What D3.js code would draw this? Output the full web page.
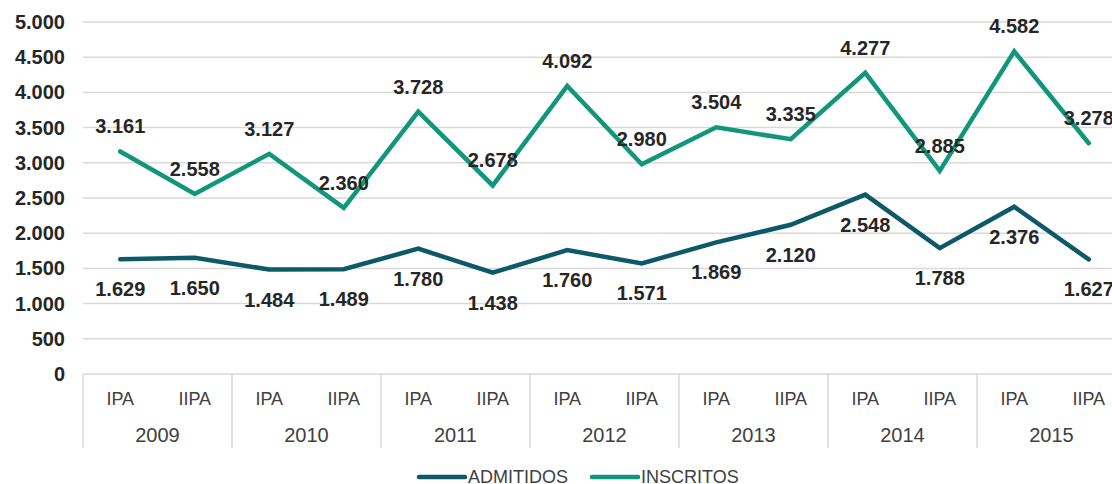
<!DOCTYPE html>
<html>
<head>
<meta charset="utf-8">
<script src="https://cdn.jsdelivr.net/npm/d3@7"></script>
<style>
  body { margin: 0; background: #fff; }
  svg { display: block; font-family: "Liberation Sans", Arial, sans-serif; }
</style>
</head>
<body>
<svg id="chart" width="1112" height="484"></svg>
<script>
var years = ["2009", "2010", "2011", "2012", "2013", "2014", "2015"];
var periods = ["IPA", "IIPA"];
var inscritos = [3161, 2558, 3127, 2360, 3728, 2678, 4092, 2980, 3504, 3335, 4277, 2885, 4582, 3278];
var admitidos = [1629, 1650, 1484, 1489, 1780, 1438, 1760, 1571, 1869, 2120, 2548, 1788, 2376, 1627];
var yTicks = [0, 500, 1000, 1500, 2000, 2500, 3000, 3500, 4000, 4500, 5000];

var svg_w = 1112, svg_h = 484;
var left = 83, top_ = 22, bottom = 374;
var colAdm = "#0d5968", colIns = "#10967a";

// category keys: year + period
var cats = [];
for (let y of years) {
    for (let p of periods) cats.push(y + "-" + p);
}

var svg = d3.select("#chart");

var x = d3.scaleBand()
    .domain(cats)
    .range([left, left + 74.5 * cats.length]);
var yScale = d3.scaleLinear()
    .domain([0, 5000])
    .range([bottom, top_]);

var fmt = d3.formatLocale({decimal: ",", thousands: ".", grouping: [3], currency: ["", ""]}).format(",d");

// gridlines
svg.append("g")
    .selectAll("line")
    .data(yTicks.filter(d => d > 0))
    .enter().append("line")
    .attr("x1", left).attr("x2", svg_w)
    .attr("y1", d => yScale(d)).attr("y2", d => yScale(d))
    .attr("stroke", "#d9d9d9").attr("stroke-width", 1.5);

// y tick labels
svg.append("g")
    .selectAll("text")
    .data(yTicks)
    .enter().append("text")
    .attr("x", 65)
    .attr("y", d => yScale(d) + 7)
    .attr("text-anchor", "end")
    .attr("font-size", 20)
    .attr("font-weight", "bold")
    .attr("fill", "#262626")
    .text(d => fmt(d));

// x axis line and group separators
var axisG = svg.append("g");
axisG.append("line")
    .attr("x1", left).attr("x2", svg_w)
    .attr("y1", bottom).attr("y2", bottom)
    .attr("stroke", "#d9d9d9").attr("stroke-width", 1.5);
var seps = years.map(y => x(y + "-IPA")).concat([x(years[years.length - 1] + "-IIPA") + x.bandwidth()]);
axisG.selectAll("line.sep")
    .data(seps)
    .enter().append("line")
    .attr("class", "sep")
    .attr("x1", d => d).attr("x2", d => d)
    .attr("y1", bottom).attr("y2", 448)
    .attr("stroke", "#d9d9d9").attr("stroke-width", 1.5);

axisG.selectAll("text.per")
    .data(cats)
    .enter().append("text")
    .attr("class", "per")
    .attr("x", d => x(d) + x.bandwidth() / 2)
    .attr("y", 405)
    .attr("text-anchor", "middle")
    .attr("font-size", 18)
    .attr("fill", "#404040")
    .text(d => d.split("-")[1]);

axisG.selectAll("text.yr")
    .data(years)
    .enter().append("text")
    .attr("class", "yr")
    .attr("x", d => x(d + "-IPA") + x.bandwidth())
    .attr("y", 442)
    .attr("text-anchor", "middle")
    .attr("font-size", 20)
    .attr("fill", "#404040")
    .text(d => d);

// lines
var lineGen = d3.line()
    .x((d, i) => x(cats[i]) + x.bandwidth() / 2)
    .y(d => yScale(d));

function drawSeries(vals, color, dy) {
    svg.append("path")
        .datum(vals)
        .attr("d", lineGen)
        .attr("fill", "none")
        .attr("stroke", color)
        .attr("stroke-width", 4.5)
        .attr("stroke-linejoin", "miter")
        .attr("stroke-linecap", "round");
    svg.append("g")
        .selectAll("text")
        .data(vals)
        .enter().append("text")
        .attr("x", (d, i) => x(cats[i]) + x.bandwidth() / 2)
        .attr("y", d => yScale(d) + dy)
        .attr("text-anchor", "middle")
        .attr("font-size", 20)
        .attr("font-weight", "bold")
        .attr("fill", "#262626")
        .text(d => fmt(d));
}
drawSeries(admitidos, colAdm, 37);
drawSeries(inscritos, colIns, -18);

// legend
var legend = [
    {name: "ADMITIDOS", color: colAdm, x: 419},
    {name: "INSCRITOS", color: colIns, x: 592}
];
var lg = svg.append("g").selectAll("g").data(legend).enter().append("g");
lg.append("line")
    .attr("x1", d => d.x).attr("x2", d => d.x + 46)
    .attr("y1", 477).attr("y2", 477)
    .attr("stroke", d => d.color).attr("stroke-width", 4.5)
    .attr("stroke-linecap", "round");
lg.append("text")
    .attr("x", d => d.x + 49)
    .attr("y", 483)
    .attr("font-size", 18)
    .attr("fill", "#404040")
    .text(d => d.name);
</script>
</body>
</html>
